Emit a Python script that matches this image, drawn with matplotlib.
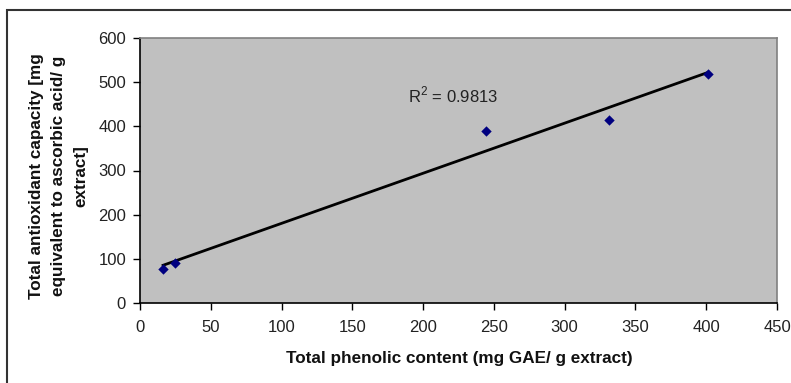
import numpy as np
import matplotlib
matplotlib.use("Agg")
import matplotlib.pyplot as plt
from matplotlib.patches import Rectangle

phenolic = [16.3, 24.8, 244.6, 331.0, 401.5]
antioxidant = [77, 90, 390, 413.6, 519]
x_ticks = [0, 50, 100, 150, 200, 250, 300, 350, 400, 450]
y_ticks = [0, 100, 200, 300, 400, 500, 600]
r2_label = "R$^2$ = 0.9813"

plt.rcParams['font.family'] = ['Liberation Sans', 'DejaVu Sans']
plt.rcParams['mathtext.fontset'] = 'custom'
plt.rcParams['mathtext.rm'] = 'Liberation Sans'
W, H = 791, 383
fig = plt.figure(figsize=(W / 100, H / 100), dpi=100)

# outer frame
fig.patches.append(Rectangle((7 / W, -0.1), 1.2, (H - 10) / H + 0.1, transform=fig.transFigure,
                             fill=False, edgecolor='#333333', linewidth=1.5))

left, right, top, bottom = 140, 777, 38, 303
ax = fig.add_axes([left / W, 1 - bottom / H, (right - left) / W, (bottom - top) / H])
ax.set_facecolor('#C0C0C0')

ax.scatter(phenolic, antioxidant, marker='D', s=28, color='#000080', zorder=3, linewidths=0)
coef = np.polyfit(phenolic, antioxidant, 1)
xs = np.array([min(phenolic), max(phenolic)])
ax.plot(xs, np.polyval(coef, xs), color='black', linewidth=2, zorder=2)

ax.set_xlim(0, 450)
ax.set_ylim(0, 600)
ax.set_xticks(x_ticks)
ax.set_yticks(y_ticks)
ax.tick_params(direction='out', length=5, width=1, labelsize=12, color='black', labelcolor='#222222')
ax.tick_params(axis='y', pad=5)
ax.tick_params(axis='x', pad=7)
for s in ['top', 'right']:
    ax.spines[s].set_color('#808080')
    ax.spines[s].set_linewidth(1.2)
for s in ['left', 'bottom']:
    ax.spines[s].set_color('black')
    ax.spines[s].set_linewidth(1.2)

ax.text(189, 471, r2_label, fontsize=12, color='#222222', ha='left', va='center')

fig.text(459 / W, 1 - 359 / H, "Total phenolic content (mg GAE/ g extract)",
         fontsize=12.3, fontweight='bold', ha='center', va='center', color='#111111')
fig.text(59 / W, 1 - 176 / H,
         "Total antioxidant capacity [mg\nequivalent to ascorbic acid/ g\nextract]",
         fontsize=12.3, fontweight='bold', ha='center', va='center', rotation=90,
         linespacing=1.6, multialignment='center', color='#111111')

fig.savefig("out.png", dpi=100)
